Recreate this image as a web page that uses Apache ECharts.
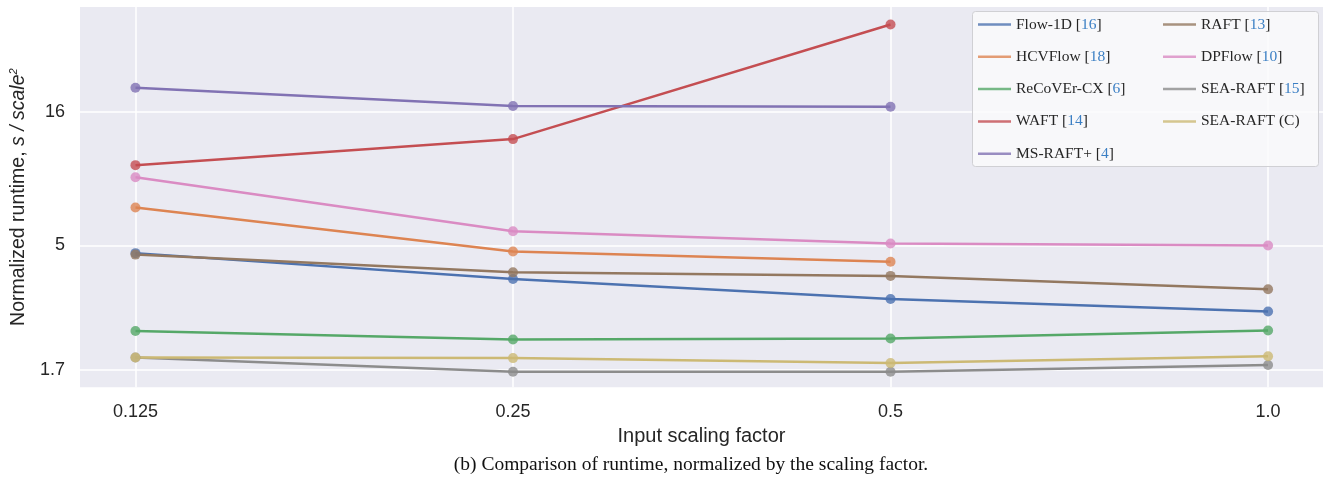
<!DOCTYPE html>
<html>
<head>
<meta charset="utf-8">
<script src="https://cdn.jsdelivr.net/npm/echarts@6/dist/echarts.min.js"></script>
<style>html,body{margin:0;padding:0;background:#fff}#c{width:1323px;height:481px}</style>
</head>
<body>
<div id="c"></div>
<script>
const xValues = [0.125, 0.25, 0.5, 1.0];
const xLabels = ['0.125', '0.25', '0.5', '1.0'];
const yTicks = [1.7, 5, 16];

const flow1d   = [4.68, 3.74, 3.14, 2.82];
const hcvflow  = [6.96, 4.75, 4.34, null];
const recover  = [2.38, 2.21, 2.23, 2.39];
const waft     = [10.05, 12.6, 34.1, null];
const msraft   = [19.7, 16.8, 16.7, null];
const raft     = [4.62, 3.96, 3.84, 3.42];
const dpflow   = [9.05, 5.66, 5.09, 5.0];
const searaft  = [1.89, 1.67, 1.67, 1.77];
const searaftC = [1.89, 1.88, 1.80, 1.91];

const seriesDefs = [
  ['Flow-1D [16]', flow1d, '#4c72b0'],
  ['HCVFlow [18]', hcvflow, '#dd8452'],
  ['ReCoVEr-CX [6]', recover, '#55a868'],
  ['WAFT [14]', waft, '#c44e52'],
  ['MS-RAFT+ [4]', msraft, '#8172b3'],
  ['RAFT [13]', raft, '#937860'],
  ['DPFlow [10]', dpflow, '#da8bc3'],
  ['SEA-RAFT [15]', searaft, '#8c8c8c'],
  ['SEA-RAFT (C)', searaftC, '#ccb974']
];
const col1 = seriesDefs.slice(0, 5).map(d => d[0]);
const col2 = seriesDefs.slice(5).map(d => d[0]);

const chart = echarts.init(document.getElementById('c'), null, {renderer: 'canvas'});

function legendFmt(name) {
  const m = name.match(/^(.*)\[(\d+)\]$/);
  if (m) return '{n|' + m[1] + '[}{r|' + m[2] + '}{n|]}';
  return '{n|' + name + '}';
}
const legendText = {
  fontFamily: 'Liberation Serif',
  fontSize: 15.5,
  color: '#262626',
  lineHeight: 20,
  rich: {
    n: {fontFamily: 'Liberation Serif', fontSize: 15.5, color: '#262626', lineHeight: 20},
    r: {fontFamily: 'Liberation Serif', fontSize: 15.5, color: '#3b7fc4', lineHeight: 20}
  }
};
function makeLegend(data, left) {
  return {
    orient: 'vertical', left: left, top: 14.5, data: data, z: 8,
    icon: 'rect', itemWidth: 33, itemHeight: 2.5, itemGap: 12.3,
    textStyle: legendText, formatter: legendFmt,
    selectedMode: false, padding: 0
  };
}

const option = {
  animation: false,
  backgroundColor: '#ffffff',
  grid: {left: 80, right: 0, top: 7, bottom: 93.7, show: true, backgroundColor: '#eaeaf2', borderWidth: 0},
  xAxis: {
    type: 'log', logBase: 2, min: 0.1129, max: 1.1061,
    name: 'Input scaling factor', nameLocation: 'middle', nameGap: 39,
    nameTextStyle: {fontFamily: 'Liberation Sans', fontSize: 20, color: '#262626'},
    axisLine: {show: false}, axisTick: {show: false, customValues: xValues},
    axisLabel: {
      customValues: xValues, margin: 16, fontFamily: 'Liberation Sans', fontSize: 18, color: '#262626',
      formatter: function (v) {
        let best = 0;
        for (let i = 1; i < xValues.length; i++) if (Math.abs(xValues[i] - v) < Math.abs(xValues[best] - v)) best = i;
        return xLabels[best];
      }
    },
    splitLine: {show: true, lineStyle: {color: '#ffffff', width: 1.5}}
  },
  yAxis: {
    type: 'log', logBase: 10, min: 1.459, max: 39.7,
    name: '{a|Normalized runtime, }{b|s / scale}{c|2}', nameLocation: 'middle', nameGap: 48,
    nameTextStyle: {
      fontFamily: 'Liberation Sans', fontSize: 19.5, color: '#262626',
      rich: {
        a: {fontFamily: 'Liberation Sans', fontSize: 19.5, color: '#262626'},
        b: {fontFamily: 'Liberation Sans', fontStyle: 'italic', fontSize: 19.5, color: '#262626'},
        c: {fontFamily: 'Liberation Sans', fontStyle: 'italic', fontSize: 11, color: '#262626', verticalAlign: 'top', padding: [0, 0, 10, 0]}
      }
    },
    axisLine: {show: false}, axisTick: {show: false, customValues: yTicks},
    axisLabel: {
      customValues: yTicks, margin: 15, fontFamily: 'Liberation Sans', fontSize: 18, color: '#262626',
      formatter: function (v) {
        let best = 0;
        for (let i = 1; i < yTicks.length; i++) if (Math.abs(yTicks[i] - v) < Math.abs(yTicks[best] - v)) best = i;
        return String(yTicks[best]);
      }
    },
    splitLine: {show: true, lineStyle: {color: '#ffffff', width: 1.5}}
  },
  legend: [makeLegend(col1, 978), makeLegend(col2, 1163)],
  graphic: [
    {type: 'rect', left: 972, top: 11, shape: {width: 346, height: 155, r: 3}, z: 3,
     style: {fill: 'rgba(250,250,252,0.85)', stroke: '#d0d0d4', lineWidth: 1}},
    {type: 'text', x: 691, y: 465, z: 5,
     style: {text: '(b) Comparison of runtime, normalized by the scaling factor.', align: 'center', verticalAlign: 'middle', fontFamily: 'Liberation Serif', fontSize: 19.5, fill: '#111111'}}
  ],
  series: seriesDefs.map(d => ({
    name: d[0], type: 'line',
    data: xValues.map((x, i) => d[1][i] == null ? null : [x, d[1][i]]).filter(p => p),
    color: d[2],
    lineStyle: {width: 2.5, color: d[2]},
    symbol: 'circle', symbolSize: 10, showSymbol: true,
    itemStyle: {color: d[2], opacity: 0.8},
    z: 2
  }))
};
chart.setOption(option);
</script>
</body>
</html>
